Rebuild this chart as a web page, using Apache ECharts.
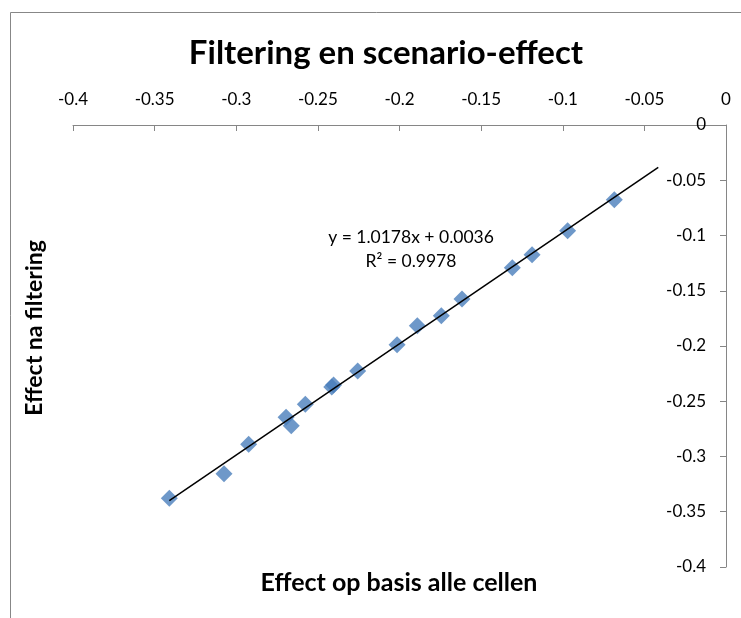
<!DOCTYPE html>
<html>
<head>
<meta charset="utf-8">
<script src="https://cdn.jsdelivr.net/npm/echarts@6/dist/echarts.min.js"></script>
<style>
  html, body { margin: 0; padding: 0; background: #fff; }
  #chart { width: 741px; height: 618px; }
</style>
</head>
<body>
<div id="chart"></div>
<script>
// punten: effect op basis alle cellen (x) vs effect na filtering (y)
const effectAlleCellen = [-0.341, -0.3075, -0.2924, -0.2695, -0.2663, -0.2577, -0.2415, -0.2404,
  -0.2256, -0.2015, -0.1891, -0.1744, -0.1617, -0.1309, -0.1188, -0.097, -0.0684]
const effectFiltering = [-0.3378, -0.3156, -0.289, -0.2645, -0.2721, -0.2528, -0.2371, -0.2353,
  -0.2226, -0.1988, -0.1816, -0.1726, -0.1575, -0.1291, -0.1174, -0.0957, -0.0676]

const trendX = [-0.341, -0.0415]
const trendY = [-0.340, -0.0383]

const xTicks = [-0.4, -0.35, -0.3, -0.25, -0.2, -0.15, -0.1, -0.05, 0]
const yTicks = [-0.4, -0.35, -0.3, -0.25, -0.2, -0.15, -0.1, -0.05, 0]

const FONT = 'Lato, "Open Sans", sans-serif'
const AXIS_COLOR = '#868686'

const myChart = echarts.init(document.getElementById('chart'))

myChart.setOption({
  animation: false,
  textStyle: { fontFamily: FONT },
  title: {
    text: 'Filtering en scenario-effect',
    left: 381,
    top: 32,
    textAlign: 'center',
    textStyle: { fontFamily: FONT, fontSize: 33, fontWeight: 'bold', color: '#000' }
  },
  grid: { left: 73, right: 15, top: 125, bottom: 51, containLabel: false },
  xAxis: {
    type: 'value',
    position: 'top',
    min: xTicks[0],
    max: xTicks[xTicks.length - 1],
    interval: 0.05,
    axisLine: { show: true, onZero: false, lineStyle: { color: AXIS_COLOR } },
    axisTick: { show: true, inside: true, length: 6, lineStyle: { color: AXIS_COLOR } },
    axisLabel: {
      margin: 17,
      fontSize: 17,
      color: '#000',
      fontFamily: FONT,
      formatter: v => String(+v.toFixed(2))
    },
    splitLine: { show: false }
  },
  yAxis: {
    type: 'value',
    position: 'right',
    min: yTicks[0],
    max: yTicks[yTicks.length - 1],
    interval: 0.05,
    axisLine: { show: true, onZero: false, lineStyle: { color: AXIS_COLOR } },
    axisTick: { show: true, inside: true, length: 6, lineStyle: { color: AXIS_COLOR } },
    axisLabel: {
      inside: true,
      margin: 20,
      fontSize: 17,
      color: '#000',
      fontFamily: FONT,
      formatter: v => String(+v.toFixed(2))
    },
    splitLine: { show: false }
  },
  graphic: [
    {
      type: 'rect',
      shape: { x: 10.5, y: 12.5, width: 800, height: 700 },
      style: { fill: 'none', stroke: '#878787', lineWidth: 1 },
      silent: true,
      z: -10
    },
    {
      type: 'text',
      x: 35,
      y: 328,
      rotation: Math.PI / 2,
      style: {
        text: 'Effect na filtering',
        font: 'bold 23px ' + FONT,
        fill: '#000',
        align: 'center',
        verticalAlign: 'middle'
      }
    },
    {
      type: 'text',
      x: 399,
      y: 583,
      style: {
        text: 'Effect op basis alle cellen',
        font: 'bold 25px ' + FONT,
        fill: '#000',
        align: 'center',
        verticalAlign: 'middle'
      }
    },
    {
      type: 'text',
      x: 411,
      y: 237,
      style: {
        text: 'y = 1.0178x + 0.0036',
        font: '17.5px ' + FONT,
        fill: '#000',
        align: 'center',
        verticalAlign: 'middle'
      }
    },
    {
      type: 'text',
      x: 411,
      y: 261,
      style: {
        text: 'R² = 0.9978',
        font: '17.5px ' + FONT,
        fill: '#000',
        align: 'center',
        verticalAlign: 'middle'
      }
    }
  ],
  series: [
    {
      name: 'Effect',
      type: 'scatter',
      symbol: 'diamond',
      symbolSize: 17,
      itemStyle: { color: '#4a7ebb' },
      data: effectAlleCellen.map((x, i) => [x, effectFiltering[i]]),
      z: 2
    },
    {
      name: 'Trend',
      type: 'line',
      showSymbol: false,
      symbol: 'none',
      lineStyle: { color: '#000', width: 1.5 },
      data: trendX.map((x, i) => [x, trendY[i]]),
      z: 3
    }
  ]
})
</script>
</body>
</html>
